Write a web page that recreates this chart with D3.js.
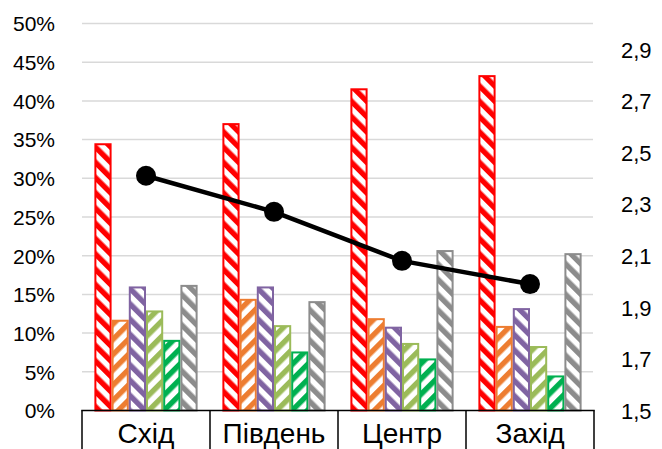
<!DOCTYPE html>
<html>
<head>
<meta charset="utf-8">
<script src="https://cdn.jsdelivr.net/npm/d3@7"></script>
<style>
html,body{margin:0;padding:0;background:#fff;}
svg{display:block;}
text{font-family:"Liberation Sans",Arial,sans-serif;fill:#000;}
</style>
</head>
<body>
<svg id="chart" width="662" height="449"></svg>
<script>
const categories = ["Схід", "Південь", "Центр", "Захід"];
const seriesNames = ["s1", "s2", "s3", "s4", "s5", "s6"];
const seriesColors = ["#FF0000", "#ED7D31", "#8064A2", "#9BBB59", "#00B050", "#8C8C8C"];
const seriesHatch = ["down", "up", "down", "up", "up", "down"];
// values in % per category, per series
const s1 = [34.4, 37.0, 41.5, 43.2];
const s2 = [11.6, 14.3, 11.8, 10.8];
const s3 = [15.9, 15.9, 10.7, 13.1];
const s4 = [12.8, 10.9, 8.6, 8.2];
const s5 = [9.0, 7.5, 6.6, 4.4];
const s6 = [16.1, 14.0, 20.6, 20.2];
const seriesValues = [s1, s2, s3, s4, s5, s6];
const lineValues = [2.41, 2.27, 2.08, 1.99];
const leftTicks = [0, 5, 10, 15, 20, 25, 30, 35, 40, 45, 50];
const rightTicks = [1.5, 1.7, 1.9, 2.1, 2.3, 2.5, 2.7, 2.9];

const svg = d3.select("#chart");
const mLeft = 82, mRight = 594, mTop = 23.5, mBottom = 410.5;

const x0 = d3.scaleBand().domain(categories).range([mLeft, mRight]).padding(0);
const x1 = d3.scaleBand().domain(seriesNames).range([0, x0.bandwidth()]).paddingInner(0).paddingOuter(0.72);
const yL = d3.scaleLinear().domain([0, 50]).range([mBottom, mTop]);
const yR = d3.scaleLinear().domain([1.5, 3.0]).range([mBottom, mTop]);

// patterns
const defs = svg.append("defs");
const P = 10.8;
seriesNames.forEach((s, i) => {
  const p = defs.append("pattern")
    .attr("id", "hatch" + i)
    .attr("patternUnits", "userSpaceOnUse")
    .attr("width", P).attr("height", P)
    .attr("patternTransform", seriesHatch[i] === "down" ? "rotate(-45)" : "rotate(45)");
  p.append("rect").attr("width", P).attr("height", P).attr("fill", "#fff");
  p.append("rect").attr("x", 0).attr("y", 0).attr("width", 5.4).attr("height", P).attr("fill", seriesColors[i]);
});

// gridlines
svg.append("g").selectAll("line").data(leftTicks.filter(d => d > 0)).join("line")
  .attr("x1", mLeft).attr("x2", mRight - 1)
  .attr("y1", d => yL(d)).attr("y2", d => yL(d))
  .attr("stroke", "#D9D9D9").attr("stroke-width", 1.5);

// left axis
const gL = svg.append("g").attr("transform", `translate(${mLeft},0)`)
  .call(d3.axisLeft(yL).tickValues(leftTicks).tickSize(0).tickPadding(27).tickFormat(d => d + "%"));
gL.select(".domain").remove();
gL.selectAll("text").style("font-size", "21px").style("font-family", "'Liberation Sans', Arial, sans-serif").attr("fill", "#000").attr("dy", "0.35em");

// right axis
const gR = svg.append("g").attr("transform", `translate(${mRight},0)`)
  .call(d3.axisRight(yR).tickValues(rightTicks).tickSize(0).tickPadding(27).tickFormat(d => d3.format(".1f")(d).replace(".", ",")));
gR.select(".domain").remove();
gR.selectAll("text").style("font-size", "22px").style("font-family", "'Liberation Sans', Arial, sans-serif").attr("fill", "#000").attr("dy", "0.35em");

// bars
const groups = svg.append("g").selectAll("g").data(categories).join("g")
  .attr("transform", d => `translate(${x0(d)},0)`);
groups.selectAll("rect").data((c, ci) => seriesNames.map((s, si) => ({s, si, v: seriesValues[si][ci]})))
  .join("rect")
  .attr("x", d => x1(d.s) + 1)
  .attr("width", x1.bandwidth() - 2)
  .attr("y", d => yL(d.v))
  .attr("height", d => yL(0) - yL(d.v))
  .attr("fill", d => `url(#hatch${d.si})`)
  .attr("stroke", d => seriesColors[d.si])
  .attr("stroke-width", 2);

// category axis box
const gX = svg.append("g").attr("transform", `translate(0,${mBottom})`)
  .call(d3.axisBottom(x0).tickSize(0).tickPadding(0));
gX.select(".domain").remove();
gX.append("line").attr("x1", mLeft - 0.75).attr("x2", mRight + 0.75).attr("y1", 0).attr("y2", 0).attr("stroke", "#000").attr("stroke-width", 1.5);
const seps = [mLeft].concat(categories.map(c => x0(c) + x0.bandwidth()));
gX.selectAll("line.sep").data(seps).join("line").attr("class", "sep")
  .attr("x1", d => d).attr("x2", d => d).attr("y1", 0).attr("y2", 40)
  .attr("stroke", "#000").attr("stroke-width", 1.5);
gX.selectAll(".tick text").style("font-size", "28px").style("font-family", "'Liberation Sans', Arial, sans-serif")
  .attr("fill", "#000").attr("y", 32).attr("dy", 0);

// line series
const line = d3.line().x((d, i) => x0(categories[i]) + x0.bandwidth() / 2).y(d => yR(d));
svg.append("path").datum(lineValues).attr("d", line)
  .attr("fill", "none").attr("stroke", "#000").attr("stroke-width", 4.5).attr("stroke-linejoin", "round");
svg.append("g").selectAll("circle").data(lineValues).join("circle")
  .attr("cx", (d, i) => x0(categories[i]) + x0.bandwidth() / 2)
  .attr("cy", d => yR(d)).attr("r", 10).attr("fill", "#000");
</script>
</body>
</html>
